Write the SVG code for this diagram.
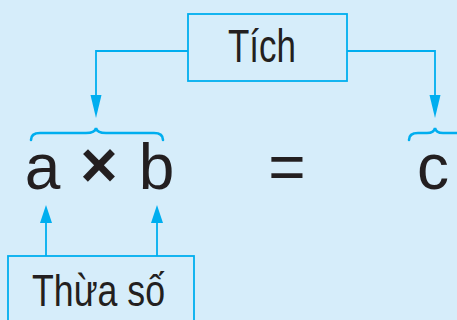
<svg xmlns="http://www.w3.org/2000/svg" width="457" height="320" viewBox="0 0 457 320">
<defs>
<style>
.ln{fill:none;stroke:#00aeef;stroke-width:1.8}
.br{fill:none;stroke:#00aeef;stroke-width:2.6;stroke-linecap:round}
.bx{fill:none;stroke:#00aeef;stroke-width:1.8}
.lbl{font-family:"Liberation Sans",Arial,sans-serif;fill:#231f20}
.m{font-family:"Liberation Sans",Arial,sans-serif;font-size:64px;fill:#231f20;text-anchor:middle}
</style>
</defs>
<rect width="457" height="320" fill="#d6edfa"/>
<g id="connectors">
<path class="ln" d="M188,51 H96 V95"/>
<path d="M90.5,95 L101.5,95 L96,118 Z" fill="#00aeef"/>
<path class="ln" d="M347,51 H435 V95"/>
<path d="M429.5,95 L440.5,95 L435,118 Z" fill="#00aeef"/>
<path class="ln" d="M46,256 V222"/>
<path d="M46,205 L52,223 L40,223 Z" fill="#00aeef"/>
<path class="ln" d="M157,256 V222"/>
<path d="M157,205 L163,223 L151,223 Z" fill="#00aeef"/>
</g>
<g id="brace-ab">
<path class="br" d="M31,140 Q31,133 40,133 H86 Q95,133 96,128 Q97,133 106,133 H154 Q163,133 163,140"/>
</g>
<g id="brace-c">
<path class="br" d="M409,140 Q409,133 418,133 H427 Q434,133 435,128 Q436,133 443,133 H460"/>
</g>
<g id="tich">
<rect class="bx" x="188" y="14" width="159" height="67"/>
<text class="lbl" x="228" y="62" font-size="46" textLength="68" lengthAdjust="spacingAndGlyphs">Tích</text>
</g>
<g id="thuaso">
<rect class="bx" x="8" y="256" width="186" height="70"/>
<text class="lbl" x="32" y="306" font-size="44" textLength="133" lengthAdjust="spacingAndGlyphs">Thừa số</text>
</g>
<g id="formula">
<text class="m" x="42.5" y="189">a</text>
<text class="m" x="99" y="187" font-size="56" font-weight="bold">×</text>
<text class="m" x="156.5" y="189">b</text>
<text class="m" x="287" y="189">=</text>
<text class="m" x="433" y="189">c</text>
</g>
</svg>
